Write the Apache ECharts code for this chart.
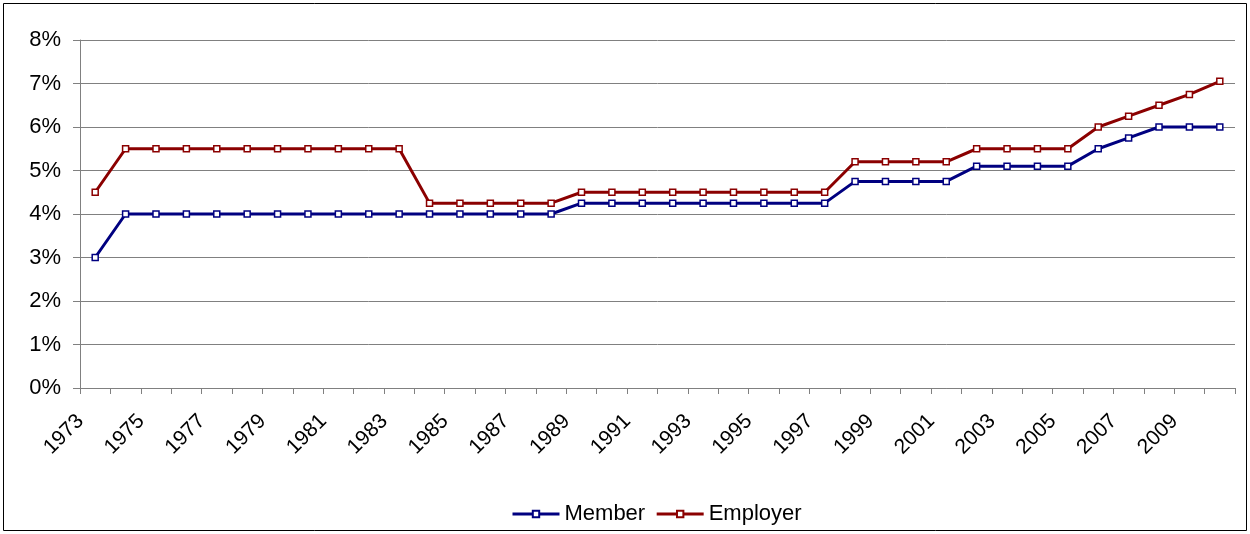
<!DOCTYPE html>
<html><head><meta charset="utf-8">
<script src="https://cdn.jsdelivr.net/npm/echarts@6/dist/echarts.min.js"></script>
<style>html,body{margin:0;padding:0;background:#fff}#c{width:1250px;height:534px}</style>
</head><body><div id="c"></div>
<script>
const years = ["1973","1974","1975","1976","1977","1978","1979","1980","1981","1982","1983","1984","1985","1986","1987","1988","1989","1990","1991","1992","1993","1994","1995","1996","1997","1998","1999","2000","2001","2002","2003","2004","2005","2006","2007","2008","2009","2010"];
const member = [3.0,4,4,4,4,4,4,4,4,4,4,4,4,4,4,4,4.25,4.25,4.25,4.25,4.25,4.25,4.25,4.25,4.25,4.75,4.75,4.75,4.75,5.1,5.1,5.1,5.1,5.5,5.75,6.0,6.0,6.0];
const employer = [4.5,5.5,5.5,5.5,5.5,5.5,5.5,5.5,5.5,5.5,5.5,4.25,4.25,4.25,4.25,4.25,4.5,4.5,4.5,4.5,4.5,4.5,4.5,4.5,4.5,5.2,5.2,5.2,5.2,5.5,5.5,5.5,5.5,6.0,6.25,6.5,6.75,7.05];
const yTicks = [0,1,2,3,4,5,6,7,8];

const chart = echarts.init(document.getElementById('c'));
const font = 'Liberation Sans, Arial, sans-serif';
function mkSeries(name, data, color){
  return {name, type:'line', data, symbol:'rect', symbolSize:6, showSymbol:true,
    lineStyle:{color, width:3}, itemStyle:{color:'#fff', borderColor:color, borderWidth:1.5}, animation:false};
}
chart.setOption({
  animation:false,
  grid:{left:80, right:15, top:40, bottom:146},
  graphic:[{type:'rect', shape:{x:3.5,y:3.5,width:1243,height:527}, style:{fill:'none', stroke:'#000', lineWidth:1}, silent:true}],
  legend:{left:506, top:498, itemWidth:47, itemHeight:8, itemGap:10,
    lineStyle:{width:3},
    textStyle:{fontFamily:font, fontSize:22, color:'#000'},
    data:[{name:'Member', itemStyle:{color:'#fff',borderColor:'#000080'}},{name:'Employer', itemStyle:{color:'#fff',borderColor:'#8b0000'}}]},
  xAxis:{type:'category', data:years, boundaryGap:true,
    axisLine:{lineStyle:{color:'#808080', width:1}},
    axisTick:{show:true, interval:0, length:6, lineStyle:{color:'#808080'}},
    axisLabel:{interval:1, rotate:45, margin:15, padding:[0,21,0,0], fontFamily:font, fontSize:21, color:'#000'}},
  yAxis:{type:'value', min:yTicks[0], max:yTicks[yTicks.length-1], interval:1,
    axisLine:{show:true, lineStyle:{color:'#808080'}},
    axisTick:{show:true, length:7, lineStyle:{color:'#808080'}},
    splitLine:{lineStyle:{color:'#808080', width:1}},
    axisLabel:{formatter:'{value}%', fontFamily:font, fontSize:22, color:'#000', margin:19}},
  series:[mkSeries('Member', member, '#000080'), mkSeries('Employer', employer, '#8b0000')]
});
</script></body></html>
